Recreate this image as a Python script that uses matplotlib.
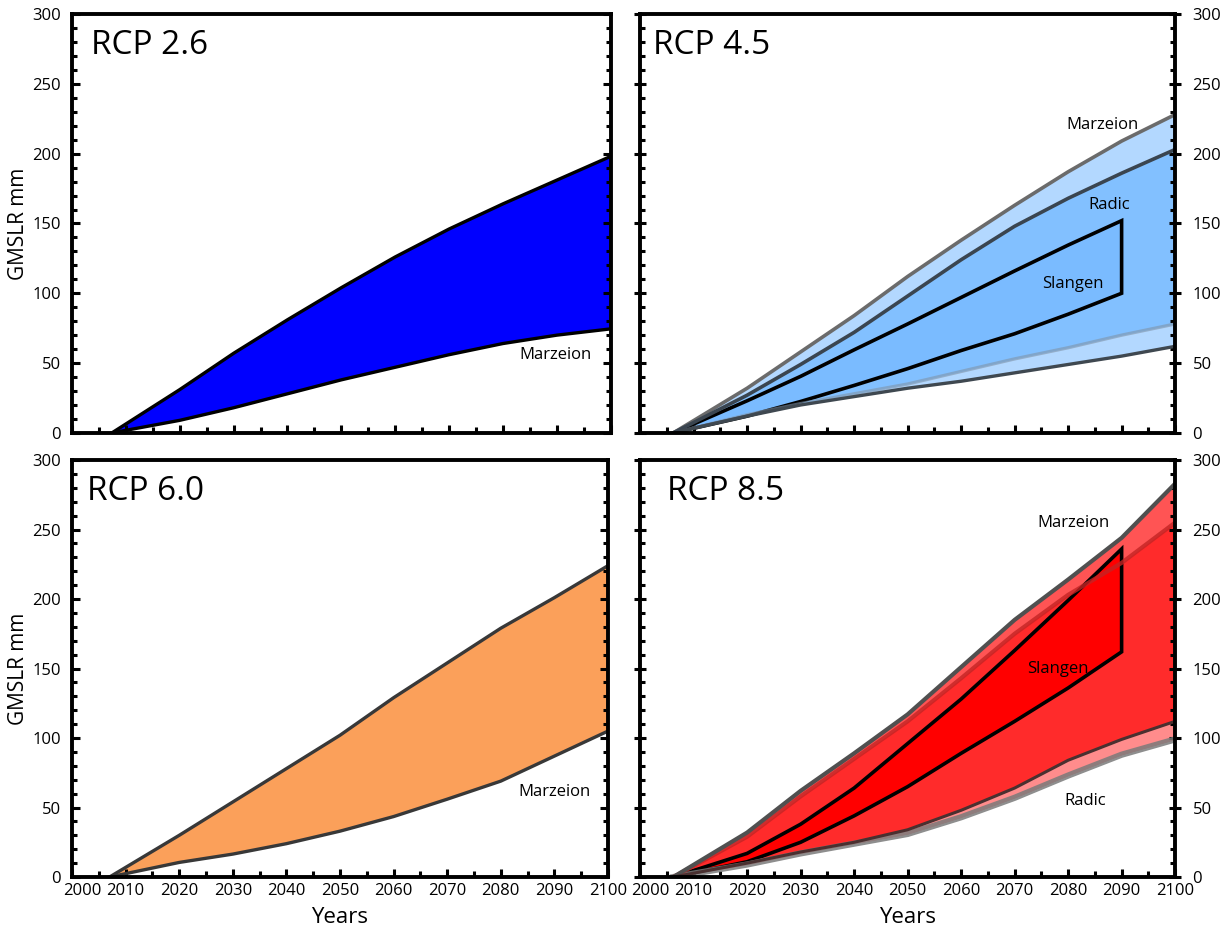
import numpy as np
import matplotlib
matplotlib.use("Agg")
import matplotlib.pyplot as plt
from matplotlib.ticker import MultipleLocator
from matplotlib.transforms import ScaledTranslation

plt.rcParams['font.family'] = ['Open Sans', 'DejaVu Sans']

# ---- data (GMSLR in mm) ----
years_26 = [2007.4, 2020, 2030, 2040, 2050, 2060, 2070, 2080, 2090, 2100]
rcp26_upper = [0, 31, 57, 81, 104, 126, 146, 164, 181, 198]
rcp26_marzeion = [0, 9, 18, 28, 38, 47, 56, 64, 70, 74.5]

years_45 = [2006.2, 2020, 2030, 2040, 2050, 2060, 2070, 2080, 2090, 2100]
rcp45_marzeion_hi = [0, 32, 58, 84, 112, 138, 163, 187, 209, 228]
rcp45_marzeion_lo = [0, 13, 21, 28, 35, 44, 53, 61, 70, 78]
rcp45_radic_hi = [0, 27, 49, 72, 98, 124, 148, 168, 186, 203]
rcp45_radic_lo = [0, 12, 20, 26, 32, 37, 43, 49, 55, 62]
years_45_slangen = [2006.2, 2020, 2030, 2040, 2050, 2060, 2070, 2080, 2090]
rcp45_slangen_hi = [0, 23, 40.5, 59.5, 78, 97, 116, 134.5, 152]
rcp45_slangen_lo = [0, 12, 22.5, 34, 46, 59, 71, 85, 100]

years_60 = [2007, 2020, 2030, 2040, 2050, 2060, 2070, 2080, 2090, 2100]
rcp60_upper = [0, 30, 54, 78, 102, 129, 154, 179, 201, 224]
rcp60_marzeion = [0, 10.5, 16.5, 24, 33, 43.5, 56, 69, 87, 105]

years_85 = [2006.2, 2020, 2030, 2040, 2050, 2060, 2070, 2080, 2090, 2100]
rcp85_marzeion_hi = [0, 32, 62, 89, 117, 151, 185, 214, 244, 283]
rcp85_marzeion_lo = [0, 9, 17, 24, 31, 43, 57, 73, 88, 99]
rcp85_radic_hi = [0, 29, 58, 85, 112, 143, 175, 203, 226, 255]
rcp85_radic_lo = [0, 10, 18, 25, 34, 48, 64, 84, 99, 112]
years_85_slangen = [2006.2, 2020, 2030, 2040, 2050, 2060, 2070, 2080, 2090]
rcp85_slangen_hi = [0, 17, 38, 64, 96, 128, 163, 199, 236]
rcp85_slangen_lo = [0, 11, 25, 44, 65, 89, 112, 136, 162]

fig = plt.figure(figsize=(12.31, 9.35), dpi=100)
ax26 = fig.add_axes([0.0585, 0.537, 0.4375, 0.448])
ax45 = fig.add_axes([0.52, 0.537, 0.4346, 0.448])
ax60 = fig.add_axes([0.0585, 0.062, 0.4354, 0.446])
ax85 = fig.add_axes([0.52, 0.062, 0.4346, 0.446])


def style(ax, right=False, bottom=False):
    ax.set_xlim(2000, 2100)
    ax.set_ylim(0, 300)
    for s in ax.spines.values():
        s.set_linewidth(2.8)
        s.set_zorder(10)
    ax.xaxis.set_major_locator(MultipleLocator(10))
    ax.xaxis.set_minor_locator(MultipleLocator(5))
    ax.yaxis.set_major_locator(MultipleLocator(50))
    ax.yaxis.set_minor_locator(MultipleLocator(10))
    ax.tick_params(axis='x', which='both', direction='in', top=False,
                   labelbottom=bottom, labelsize=12, pad=4)
    ax.tick_params(axis='x', which='major', length=6, width=2.2)
    ax.tick_params(axis='x', which='minor', length=4, width=2.2)
    ax.tick_params(axis='y', which='both', direction='in', left=True, right=True,
                   labelleft=not right, labelright=right, labelsize=12, pad=8)
    ax.tick_params(axis='y', which='major', length=6, width=2.2)
    ax.tick_params(axis='y', which='minor', length=3.5, width=2.2)
    if right:
        ax.tick_params(axis='y', which='major', direction='inout', length=9)
    if not right:
        ax.set_ylabel('GMSLR mm', fontsize=15, labelpad=2)
    if bottom:
        ax.set_xlabel('Years', fontsize=16, labelpad=6)
        # first year label sits a little to the right, clear of the "0"
        shift = ScaledTranslation(10 / 100, 0, fig.dpi_scale_trans)
        for lab in ax.get_xticklabels():
            if lab.get_text() == '2000':
                lab.set_transform(lab.get_transform() + shift)


for a, r, b in [(ax26, False, False), (ax45, True, False), (ax60, False, True), (ax85, True, True)]:
    style(a, r, b)

# ---- RCP 2.6 ----
ax26.fill_between(years_26, rcp26_marzeion, rcp26_upper, color='#0000ff', lw=0)
ax26.plot(years_26, rcp26_upper, color='black', lw=2.4, solid_joinstyle='round')
ax26.plot(years_26, rcp26_marzeion, color='black', lw=2.4, solid_joinstyle='round')
ax26.text(2089.8, 56, 'Marzeion', fontsize=12, ha='center', va='center')
ax26.text(0.035, 0.965, 'RCP 2.6', transform=ax26.transAxes, fontsize=24, va='top')

# ---- RCP 4.5 ----
m_lo = np.array(rcp45_marzeion_lo)
m_hi = np.array(rcp45_marzeion_hi)
r_lo = np.array(rcp45_radic_lo)
r_hi = np.array(rcp45_radic_hi)
ax45.fill_between(years_45, m_lo, m_hi, color='#b3d8ff', lw=0)
ax45.fill_between(years_45, r_lo, r_hi, color='#b3d8ff', lw=0)
ax45.fill_between(years_45, np.maximum(m_lo, r_lo), np.minimum(m_hi, r_hi), color='#82c0ff', lw=0)
ax45.fill(np.concatenate([years_45_slangen, years_45_slangen[::-1]]),
          np.concatenate([rcp45_slangen_hi, rcp45_slangen_lo[::-1]]),
          facecolor='#7abbff', edgecolor='black', lw=2.6, joinstyle='miter')
ax45.plot(years_45, m_hi, color='#6b6b6b', lw=2.6)
ax45.plot(years_45, m_lo, color='#7f93a8', lw=2.4, alpha=0.6)
ax45.plot(years_45, r_hi, color='#3a4550', lw=2.6)
ax45.plot(years_45, r_lo, color='#3f4850', lw=2.4)
ax45.text(2086.4, 220.5, 'Marzeion', fontsize=12, ha='center', va='center')
ax45.text(2087.7, 163, 'Radic', fontsize=12, ha='center', va='center')
ax45.text(2080.9, 107, 'Slangen', fontsize=12, ha='center', va='center')
ax45.text(0.025, 0.965, 'RCP 4.5', transform=ax45.transAxes, fontsize=24, va='top')

# ---- RCP 6.0 ----
ax60.fill_between(years_60, rcp60_marzeion, rcp60_upper, color='#fba05a', lw=0)
ax60.plot(years_60, rcp60_upper, color='#383838', lw=2.4, solid_joinstyle='round')
ax60.plot(years_60, rcp60_marzeion, color='#383838', lw=2.4, solid_joinstyle='round')
ax60.text(2090, 61, 'Marzeion', fontsize=12, ha='center', va='center')
ax60.text(0.028, 0.965, 'RCP 6.0', transform=ax60.transAxes, fontsize=24, va='top')

# ---- RCP 8.5 ----
m_lo = np.array(rcp85_marzeion_lo)
m_hi = np.array(rcp85_marzeion_hi)
r_lo = np.array(rcp85_radic_lo)
r_hi = np.array(rcp85_radic_hi)
ax85.fill_between(years_85, m_lo, m_hi, color='#ff5454', lw=0)
ax85.fill_between(years_85, m_lo, r_lo, color='#ff8c8c', lw=0)
ax85.fill_between(years_85, r_lo, r_hi, color='#ff2b2b', lw=0)
ax85.plot(years_85, m_lo, color='#7a7a7a', lw=4.5, alpha=0.85)
ax85.plot(years_85, r_hi, color='#c42424', lw=3, alpha=0.8)
ax85.fill(np.concatenate([years_85_slangen, years_85_slangen[::-1]]),
          np.concatenate([rcp85_slangen_hi, rcp85_slangen_lo[::-1]]),
          facecolor='#ff0000', edgecolor='black', lw=2.6, joinstyle='miter')
ax85.plot(years_85, m_hi, color='#505050', lw=3)
ax85.plot(years_85, r_lo, color='#4a3030', lw=2.2)
ax85.text(2081, 254.7, 'Marzeion', fontsize=12, ha='center', va='center')
ax85.text(2078, 150, 'Slangen', fontsize=12, ha='center', va='center')
ax85.text(2083.2, 55, 'Radic', fontsize=12, ha='center', va='center')
ax85.text(0.05, 0.965, 'RCP 8.5', transform=ax85.transAxes, fontsize=24, va='top')

fig.savefig('out.png', dpi=100)
